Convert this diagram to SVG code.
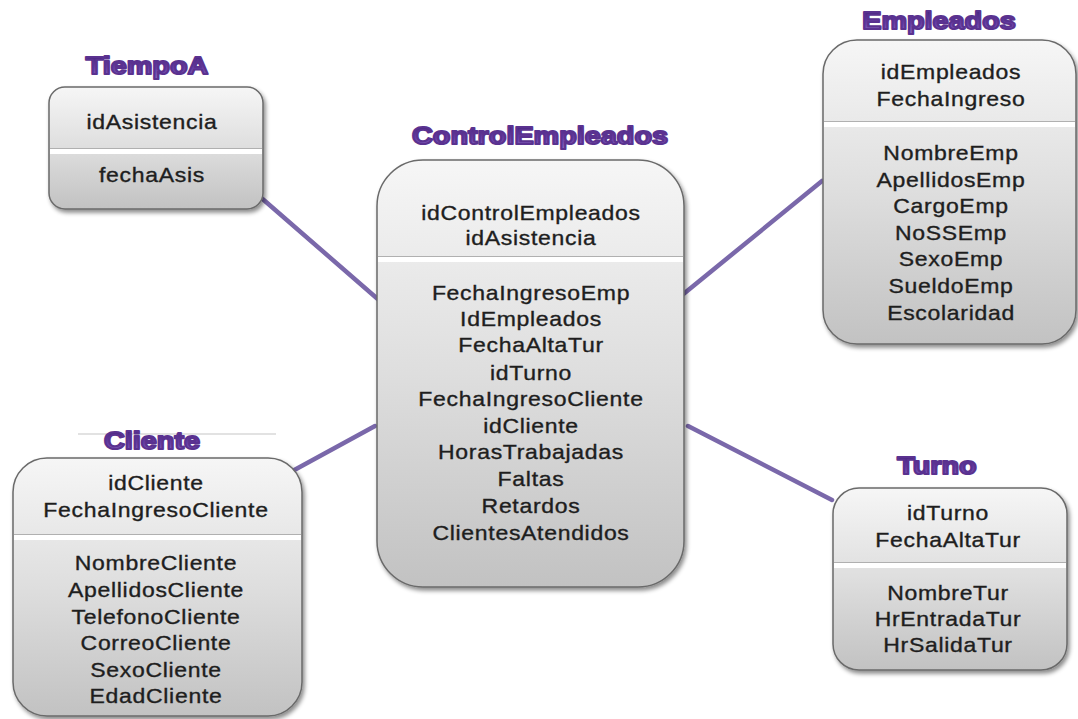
<svg xmlns="http://www.w3.org/2000/svg" width="1078" height="719" viewBox="0 0 1078 719">
<defs>
<linearGradient id="boxg" x1="0" y1="0" x2="0" y2="1">
<stop offset="0" stop-color="#f6f6f6"/>
<stop offset="0.5" stop-color="#dedede"/>
<stop offset="1" stop-color="#c2c2c2"/>
</linearGradient>
<linearGradient id="titg" x1="0" y1="0" x2="0" y2="1">
<stop offset="0" stop-color="#3f1d72"/>
<stop offset="0.6" stop-color="#6a3fa6"/>
<stop offset="1" stop-color="#8d70c6"/>
</linearGradient>
<filter id="sh" x="-10%" y="-10%" width="125%" height="125%">
<feDropShadow dx="2" dy="3" stdDeviation="2" flood-color="#000" flood-opacity="0.45"/>
</filter>
</defs>
<style>
.box{fill:url(#boxg);stroke:#6a6a6a;stroke-width:1.5;filter:url(#sh)}
.div{fill:#ffffff;stroke:none}
.divl{stroke:#b0b0b0;stroke-width:1}
.t{font-family:"Liberation Sans",Arial,sans-serif;font-size:20px;fill:#1e1e1e;stroke:#1e1e1e;stroke-width:0.35;text-anchor:middle;letter-spacing:0.6px}
.ti{font-family:"Liberation Sans",Arial,sans-serif;font-size:24px;font-weight:bold;fill:url(#titg);stroke:#5a3290;stroke-width:2;stroke-linejoin:round;text-anchor:middle}
.con{stroke:#7a68aa;stroke-width:4.5;stroke-linecap:round;fill:none}
</style>
<rect width="1078" height="719" fill="#ffffff"/>

<g id="connectors">
<line class="con" x1="258" y1="195" x2="380" y2="301"/>
<line class="con" x1="681" y1="296" x2="822" y2="181"/>
<line class="con" x1="287" y1="474" x2="375" y2="426"/>
<line class="con" x1="688" y1="426" x2="832" y2="500"/>
</g>

<g id="TiempoA">
<rect class="box" x="49" y="87" width="214" height="122" rx="16"/>
<rect class="div" x="50" y="149" width="212" height="5"/>
<line class="divl" x1="50" y1="148.5" x2="262" y2="148.5"/>
<g transform="translate(152,0) scale(1.15,1)">
<text class="t" x="0" y="129">idAsistencia</text>
<text class="t" x="0" y="182">fechaAsis</text>
</g>
<text class="ti" transform="translate(147,74) scale(1.2,1)" x="0" y="0">TiempoA</text>
</g>

<g id="ControlEmpleados">
<rect class="box" x="377" y="160" width="307" height="427" rx="46"/>
<rect class="div" x="378" y="257" width="305" height="5"/>
<line class="divl" x1="378" y1="256.5" x2="683" y2="256.5"/>
<g transform="translate(531,0) scale(1.15,1)">
<text class="t" x="0" y="220">idControlEmpleados</text>
<text class="t" x="0" y="245">idAsistencia</text>
<text class="t" x="0" y="300">FechaIngresoEmp</text>
<text class="t" x="0" y="326">IdEmpleados</text>
<text class="t" x="0" y="352">FechaAltaTur</text>
<text class="t" x="0" y="380">idTurno</text>
<text class="t" x="0" y="406">FechaIngresoCliente</text>
<text class="t" x="0" y="433">idCliente</text>
<text class="t" x="0" y="459">HorasTrabajadas</text>
<text class="t" x="0" y="486">Faltas</text>
<text class="t" x="0" y="513">Retardos</text>
<text class="t" x="0" y="540">ClientesAtendidos</text>
</g>
<text class="ti" transform="translate(540,144) scale(1.2,1)" x="0" y="0">ControlEmpleados</text>
</g>

<g id="Empleados">
<rect class="box" x="823" y="40" width="253" height="304" rx="34"/>
<rect class="div" x="824" y="122" width="251" height="5"/>
<line class="divl" x1="824" y1="121.5" x2="1075" y2="121.5"/>
<g transform="translate(951,0) scale(1.15,1)">
<text class="t" x="0" y="79">idEmpleados</text>
<text class="t" x="0" y="106">FechaIngreso</text>
<text class="t" x="0" y="160">NombreEmp</text>
<text class="t" x="0" y="187">ApellidosEmp</text>
<text class="t" x="0" y="213">CargoEmp</text>
<text class="t" x="0" y="240">NoSSEmp</text>
<text class="t" x="0" y="266">SexoEmp</text>
<text class="t" x="0" y="293">SueldoEmp</text>
<text class="t" x="0" y="320">Escolaridad</text>
</g>
<text class="ti" transform="translate(939,29) scale(1.2,1)" x="0" y="0">Empleados</text>
</g>

<g id="Cliente">
<line x1="78" y1="434" x2="276" y2="434" stroke="#d8d8d8" stroke-width="1.5"/>
<rect class="box" x="13" y="458" width="289" height="258" rx="34"/>
<rect class="div" x="14" y="535" width="287" height="5"/>
<line class="divl" x1="14" y1="534.5" x2="301" y2="534.5"/>
<g transform="translate(156,0) scale(1.15,1)">
<text class="t" x="0" y="490">idCliente</text>
<text class="t" x="0" y="517">FechaIngresoCliente</text>
<text class="t" x="0" y="570">NombreCliente</text>
<text class="t" x="0" y="597">ApellidosCliente</text>
<text class="t" x="0" y="624">TelefonoCliente</text>
<text class="t" x="0" y="650">CorreoCliente</text>
<text class="t" x="0" y="677">SexoCliente</text>
<text class="t" x="0" y="703">EdadCliente</text>
</g>
<text class="ti" transform="translate(152,449) scale(1.2,1)" x="0" y="0">Cliente</text>
</g>

<g id="Turno">
<rect class="box" x="833" y="488" width="234" height="182" rx="26"/>
<rect class="div" x="834" y="563" width="232" height="5"/>
<line class="divl" x1="834" y1="562.5" x2="1066" y2="562.5"/>
<g transform="translate(948,0) scale(1.15,1)">
<text class="t" x="0" y="520">idTurno</text>
<text class="t" x="0" y="547">FechaAltaTur</text>
<text class="t" x="0" y="600">NombreTur</text>
<text class="t" x="0" y="626">HrEntradaTur</text>
<text class="t" x="0" y="652">HrSalidaTur</text>
</g>
<text class="ti" transform="translate(937,474) scale(1.2,1)" x="0" y="0">Turno</text>
</g>
</svg>
